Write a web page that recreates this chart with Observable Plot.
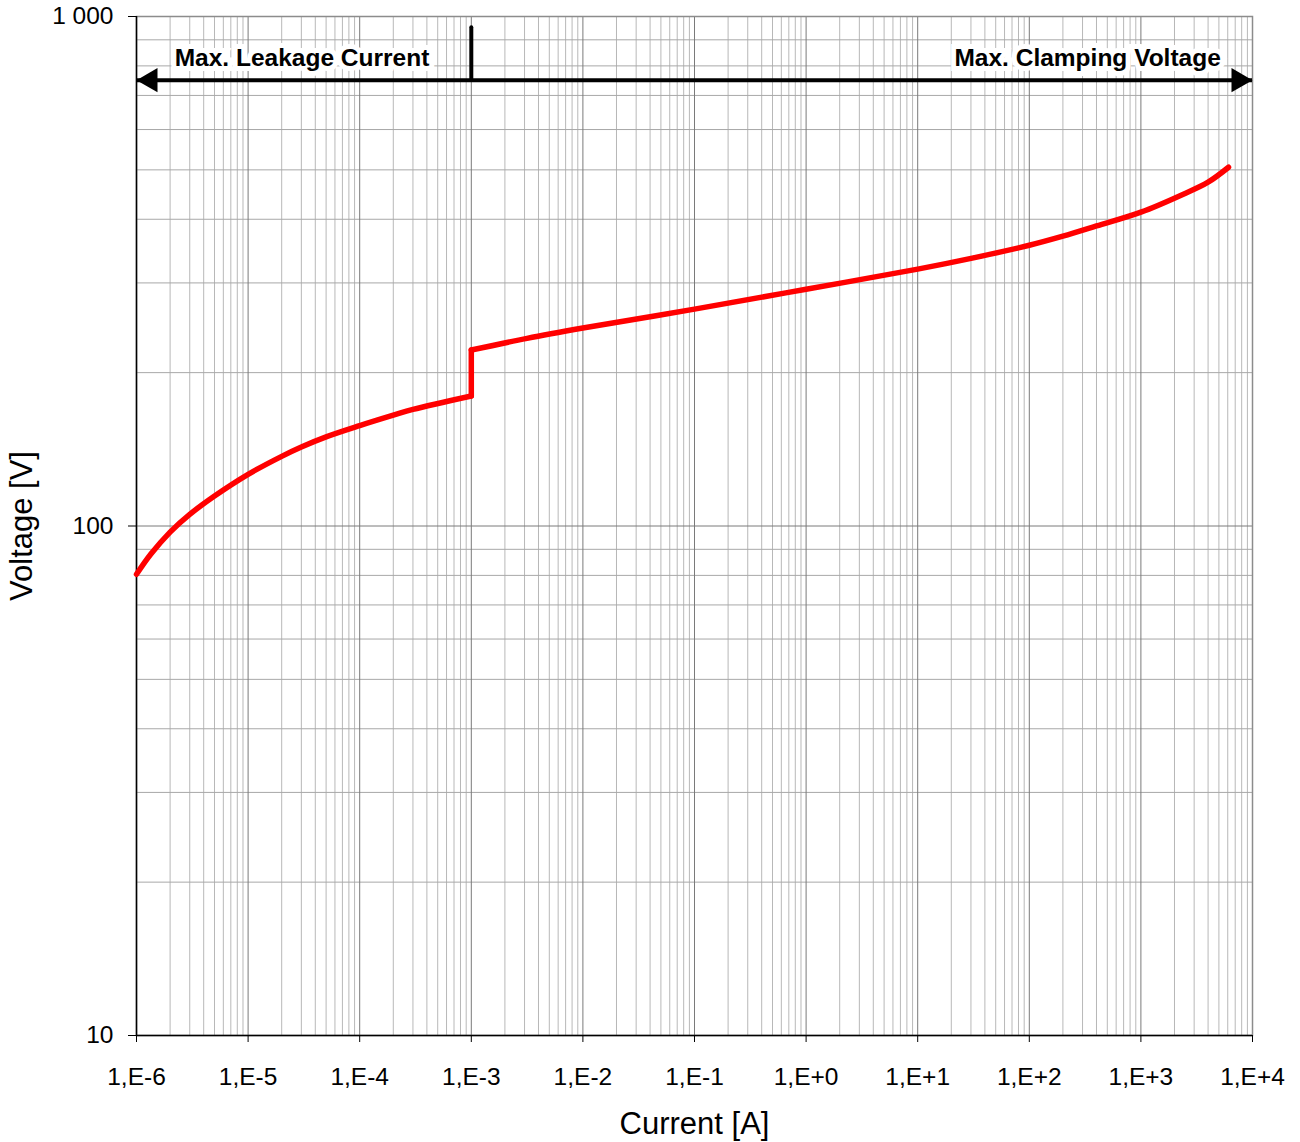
<!DOCTYPE html>
<html>
<head>
<meta charset="utf-8">
<script src="https://cdn.jsdelivr.net/npm/d3@7"></script>
<script src="https://cdn.jsdelivr.net/npm/@observablehq/plot@0.6"></script>
<style>
  html, body { margin: 0; padding: 0; background: #fff; }
  #chart svg { display: block; }
</style>
</head>
<body>
<div id="chart"></div>
<script>
// ---- data ----
const current = [1e-6, 1.34e-6, 2e-6, 3e-6, 5e-6, 1e-5, 2e-5, 3e-5, 5e-5, 1e-4, 2e-4, 3e-4, 1e-3,
                 1e-3, 1e-3,
                 1e-3, 3.16e-3, 1e-2, 1e-1, 1, 10, 31.6, 100, 200, 400, 1000, 2400, 4000, 6100];
const voltage = [80.4, 88, 97.3, 105.4, 114.5, 126.3, 137, 142.9, 149.6, 157.4, 165, 169.4, 180,
                 180, 221.5,
                 221.5, 233.5, 244.6, 266.5, 291.5, 319.3, 336, 355.6, 370.5, 388, 413, 448, 473, 506];
const segment = [0, 0, 0, 0, 0, 0, 0, 0, 0, 0, 0, 0, 0,
                 1, 1,
                 2, 2, 2, 2, 2, 2, 2, 2, 2, 2, 2, 2, 2, 2];

const xTicks = [1e-6, 1e-5, 1e-4, 1e-3, 1e-2, 1e-1, 1, 10, 100, 1000, 10000];
const yTicks = [10, 100, 1000];
const xMinor = xTicks.slice(0, -1).flatMap(d => [2,3,4,5,6,7,8,9].map(k => k * d));
const yMinor = yTicks.slice(0, -1).flatMap(d => [2,3,4,5,6,7,8,9].map(k => k * d));

// annotation
const annotLevel = 750;        // voltage level of the arrow
const annotSplit = 1e-3;       // current where the regions meet
const annotTop = 950;          // top of the divider mark
const annotLabels = ["Max. Leakage Current", "Max. Clamping Voltage"];
const annotLabelX = [2.2e-6, 5200];
const annotLabelY = 830;

const curve = current.map((c, i) => ({c, v: voltage[i], s: segment[i]}));

const fmtX = d => { const e = Math.round(Math.log10(d)); return "1,E" + (e >= 0 ? "+" : "-") + Math.abs(e); };
const fmtY = d => d === 1000 ? "1 000" : String(d);

const xDom = [xTicks[0], xTicks[xTicks.length - 1]];
const yDom = [yTicks[0], yTicks[yTicks.length - 1]];

const chart = Plot.plot({
  width: 1300,
  height: 1142,
  marginLeft: 136,
  marginRight: 48,
  marginTop: 16,
  marginBottom: 107,
  style: {fontFamily: "'Liberation Sans', Arial, sans-serif", fontSize: "24px", color: "#000", background: "#fff"},
  x: {type: "log", domain: xDom},
  y: {type: "log", domain: yDom},
  marks: [
    Plot.gridX(xMinor, {stroke: "#b8b8b8", strokeOpacity: 1, strokeWidth: 1}),
    Plot.gridY(yMinor, {stroke: "#a8a8a8", strokeOpacity: 1, strokeWidth: 1}),
    Plot.gridX(xTicks, {stroke: "#7a7a7a", strokeOpacity: 1, strokeWidth: 1}),
    Plot.gridY(yTicks, {stroke: "#7a7a7a", strokeOpacity: 1, strokeWidth: 1}),
    Plot.frame({stroke: "#8c8c8c", strokeWidth: 1.5}),
    Plot.ruleX([xDom[0]], {stroke: "#000", strokeWidth: 1.5}),
    Plot.ruleY([yDom[0]], {stroke: "#000", strokeWidth: 1.5}),
    Plot.axisX(xTicks, {tickFormat: fmtX, tickSize: 7, tickPadding: 25, fontSize: 24.5, label: null, stroke: "#000"}),
    Plot.axisY(yTicks, {tickFormat: fmtY, tickSize: 8, tickPadding: 15, fontSize: 24.5, label: null, stroke: "#000"}),
    // annotation labels with white background
    Plot.text([annotLabels[0]], {x: annotLabelX[0], y: annotLabelY, textAnchor: "start", fontWeight: "bold", fontSize: 24.5, fill: "#000", stroke: "#fff", strokeWidth: 10, strokeLinejoin: "miter"}),
    Plot.text([annotLabels[1]], {x: annotLabelX[1], y: annotLabelY, textAnchor: "end", fontWeight: "bold", fontSize: 24.5, fill: "#000", stroke: "#fff", strokeWidth: 10, strokeLinejoin: "miter"}),
    // arrow line
    Plot.ruleY([annotLevel], {x1: xDom[0], x2: xDom[1], stroke: "#000", strokeWidth: 4}),
    Plot.ruleX([annotSplit], {y1: annotLevel, y2: annotTop, stroke: "#000", strokeWidth: 4, strokeLinecap: "round"}),
    Plot.dot([{x: xDom[0], y: annotLevel}], {x: "x", y: "y", symbol: "triangle", r: 9, rotate: -90, dx: 14, fill: "#000", stroke: "none"}),
    Plot.dot([{x: xDom[1], y: annotLevel}], {x: "x", y: "y", symbol: "triangle", r: 9, rotate: 90, dx: -14, fill: "#000", stroke: "none"}),
    // curve
    Plot.line(curve, {x: "c", y: "v", z: "s", stroke: "#ff0000", strokeWidth: 5.5, curve: "catmull-rom", strokeLinejoin: "round", strokeLinecap: "round"}),
    // axis titles
    Plot.text(["Current [A]"], {frameAnchor: "bottom", dy: 89, lineAnchor: "middle", fontSize: 31, fill: "#000"}),
    Plot.text(["Voltage [V]"], {frameAnchor: "left", dx: -114, rotate: -90, textAnchor: "middle", lineAnchor: "middle", fontSize: 31, fill: "#000"})
  ]
});
document.getElementById("chart").appendChild(chart);
</script>
</body>
</html>
